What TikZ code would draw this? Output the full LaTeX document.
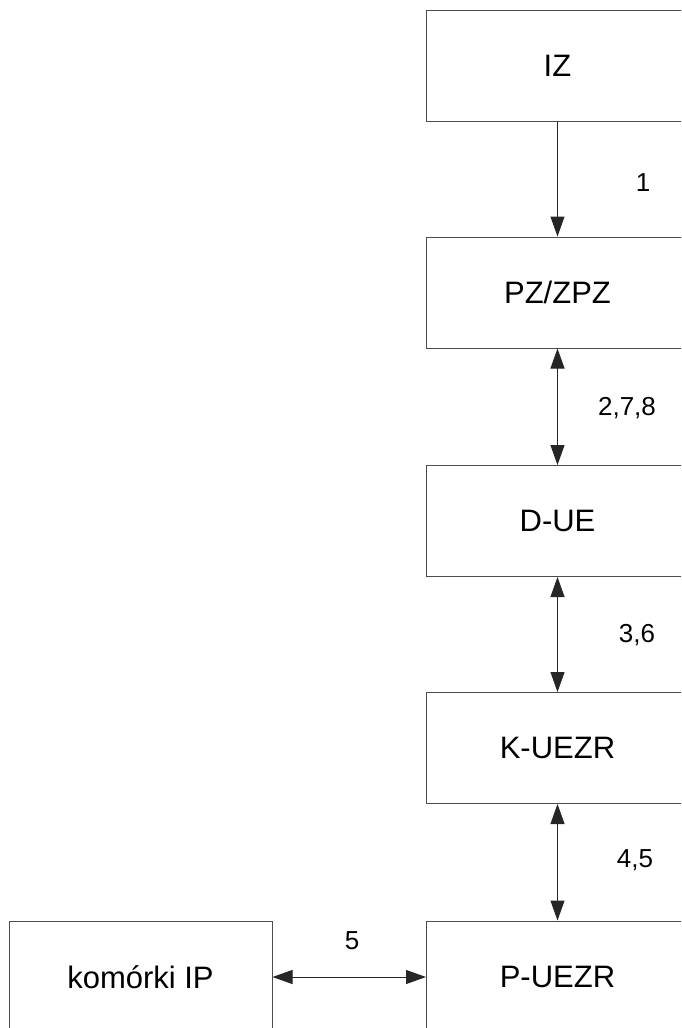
\documentclass[tikz,border=0pt]{standalone}
\usepackage{fontspec}
\setmainfont{Liberation Sans}
\usetikzlibrary{arrows.meta}
\begin{document}
\begin{tikzpicture}[x=1pt,y=-1pt,
  box/.style={draw=black!70,line width=1pt,minimum width=262pt,minimum height=111pt,inner sep=0pt,font=\fontsize{31}{35}\selectfont},
  lbl/.style={font=\fontsize{26}{30}\selectfont,inner sep=0pt},
  conn/.style={line width=1pt,draw=black!85,{Triangle[length=20pt,width=14pt]}-{Triangle[length=20pt,width=14pt]}},
  oneway/.style={line width=1pt,draw=black!85,-{Triangle[length=20pt,width=14pt]}}]
\useasboundingbox (0,0) rectangle (681,1028);
\clip (0,0) rectangle (681,1028);
\node[box] (iz) at (557.5,65.5) {IZ};
\node[box] (pz) at (557.5,292.5) {PZ/ZPZ};
\node[box] (due) at (557.5,521) {D-UE};
\node[box] (kuezr) at (557.5,748) {K-UEZR};
\node[box,minimum height=112pt] (puezr) at (557.5,977) {P-UEZR};
\node[box,minimum width=263pt,minimum height=112pt] (kip) at (140.5,977) {komórki IP};
\draw[oneway] (iz) -- (pz);
\draw[conn] (pz) -- (due);
\draw[conn] (due) -- (kuezr);
\draw[conn] (kuezr) -- (puezr);
\draw[conn] (kip) -- (puezr);
\node[lbl] (l1) at (643,183) {1};
\node[lbl] (l2) at (627,408) {2,7,8};
\node[lbl] (l3) at (637,635) {3,6};
\node[lbl] (l4) at (635,860) {4,5};
\node[lbl] (l5) at (352,941) {5};
\end{tikzpicture}
\end{document}
